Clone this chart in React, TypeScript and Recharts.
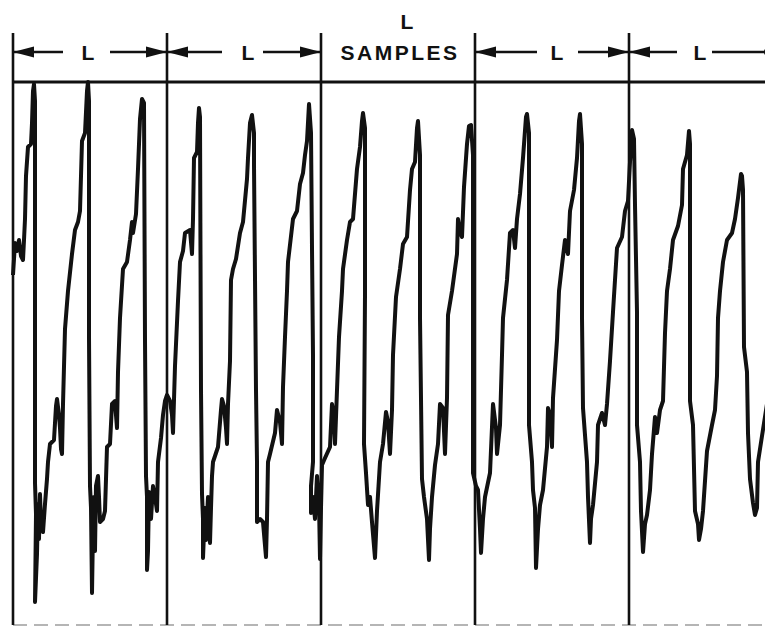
import React from "react";
import { LineChart, Line, XAxis, YAxis, ReferenceLine, ReferenceDot } from "recharts";

// frame length in samples
const L = 154;

// waveform, one array per frame: [sample, amplitude]
const frame1 = [
  [0, 79], [2, 111], [4, 103], [6, 114], [8, 98], [10, 94], [11, 114], [12, 135], [13, 178], [15, 207], [18, 210], [19, 231], [20, 263], [21, 270], [22, 253],
  [22, -1], [22, -129], [23, -160], [22, -248], [24, -200], [25, -150], [26, -185], [27, -140], [28, -170], [30, -178], [32, -150], [34, -125], [35, -108], [37, -90], [41, -86], [43, -52], [44, -45], [46, -61], [47, -74], [48, -95], [49, -100], [50, -50], [52, 25], [55, 63], [59, 100], [62, 124], [65, 132], [67, 143], [68, 178], [69, 213], [72, 221], [74, 263], [75, 272], [76, 253],
  [76, 17], [77, -132], [78, -154], [79, -239], [80, -175], [81, -143], [82, -197], [83, -132], [85, -122], [86, -143], [87, -168], [90, -165], [92, -157], [94, -93], [97, -90], [99, -50], [102, -47], [103, -61], [104, -74], [105, -18], [107, 36], [110, 85], [114, 92], [117, 114], [119, 132], [120, 121], [123, 140], [125, 185], [127, 235], [129, 255], [131, 251],
  [132, 14], [133, -122], [134, -143], [134, -216], [135, -197], [136, -138], [138, -165], [140, -132], [142, -143], [144, -157], [145, -108], [148, -84], [150, -61], [152, -47],
];

const frame2 = [
  [154, -41], [157, -47], [159, -61], [160, -79], [162, -12], [165, 53], [167, 92], [170, 103], [172, 121], [177, 124], [179, 100], [180, 135], [181, 196], [184, 202], [185, 231], [186, 246], [187, 237],
  [188, -36], [189, -140], [190, -165], [190, -204], [192, -154], [193, -186], [195, -143], [197, -189], [198, -154], [199, -122], [200, -108], [205, -93], [208, -56], [209, -45], [211, -52], [213, -74], [214, -90], [215, -50], [217, -7], [218, 74], [220, 85], [223, 95], [227, 121], [230, 132], [234, 175], [235, 196], [237, 231], [239, 239], [241, 221],
  [241, 189], [243, -36], [244, -108], [244, -168], [247, -165], [250, -168], [253, -203], [254, -165], [255, -108], [257, -100], [262, -79], [264, -56], [267, -68], [269, -90], [270, -33], [272, 17], [274, 63], [275, 92], [280, 135], [284, 143], [287, 170], [290, 181], [292, 199], [294, 213], [296, 250], [298, 221],
  [299, 106], [300, -1], [300, -108], [298, -132], [298, -159], [300, -143], [302, -165], [304, -122], [306, -149], [307, -205],
];

const frame3 = [
  [308, -154], [309, -111], [312, -104], [317, -93], [319, -50], [321, -61], [322, -90], [324, -36], [326, 17], [329, 63], [330, 85], [334, 114], [337, 132], [340, 135], [344, 185], [347, 207], [349, 233], [350, 241], [352, 226],
  [352, 60], [351, -90], [353, -119], [355, -151], [357, -143], [359, -168], [362, -204], [364, -157], [367, -108], [370, -90], [373, -58], [375, -68], [377, -100], [379, -56], [380, -1], [383, 57], [387, 85], [390, 110], [394, 117], [397, 164], [399, 185], [402, 192], [404, 226], [405, 233], [407, 199],
  [407, 36], [409, -125], [411, -143], [414, -165], [416, -206], [417, -175], [419, -143], [422, -111], [425, -90], [427, -50], [430, -54], [432, -100], [434, -44], [435, 39], [439, 63], [444, 100], [445, 135], [447, 122], [449, 117], [451, 167], [454, 210], [456, 228], [458, 229], [460, 199],
  [460, 36], [460, -119],
];

const frame4 = [
  [463, -132], [465, -136], [467, -175], [468, -199], [470, -165], [472, -143], [477, -119], [480, -50], [483, -74], [484, -100], [487, -71], [489, -1], [490, 36], [494, 74], [497, 121], [500, 124], [502, 106], [504, 135], [507, 160], [510, 196], [513, 237], [514, 240], [516, 221],
  [516, -71], [519, -108], [520, -136], [522, -154], [523, -214], [525, -175], [527, -151], [530, -136], [534, -93], [535, -54], [537, -61], [539, -93], [540, -44], [544, 14], [546, 63], [549, 89], [552, 114], [555, 100], [557, 143], [561, 164], [564, 196], [566, 233], [567, 240], [569, 210],
  [569, 36], [570, -54], [574, -108], [575, -143], [577, -189], [578, -165], [580, -151], [584, -108], [585, -71], [589, -59], [592, -71], [594, -50], [597, -7], [600, 42], [604, 106], [609, 117], [612, 143], [615, 153],
];

const frame5 = [
  [617, 192], [619, 224], [621, 215],
  [622, 149], [624, 42], [624, -71], [627, -108], [628, -157], [630, -198], [632, -170], [634, -161], [637, -136], [639, -100], [642, -63], [644, -79], [647, -56], [650, -47], [652, 21], [654, 63], [657, 85], [660, 114], [665, 128], [669, 149], [670, 185], [674, 199], [676, 223], [677, 210],
  [677, 149], [677, -47], [680, -71], [682, -157], [685, -170], [686, -186], [688, -175], [690, -157], [694, -97], [699, -71], [702, -56], [704, -22], [705, 36], [707, 63], [710, 92], [714, 114], [719, 121], [722, 135], [725, 156], [728, 180], [729, 178], [730, 164],
  [731, 7], [734, -18], [735, -79], [737, -125], [740, -149], [742, -161], [744, -154], [745, -108], [749, -82], [754, -50], [757, -22], [759, 21], [762, 50],
];

const trace = [frame1, frame2, frame3, frame4, frame5].flat().map(([n, v]) => ({ n, v }));

// frame boundaries and the bracket row above the plot
const dividers = [0, L, 2 * L, 3 * L, 4 * L];
const boxTop = 272;
const boxBottom = -271;
const tickTop = 321;
const arrowY = 302;
const shafts = [[0, 50], [97, L], [L, 209], [250, 2 * L], [3 * L, 524], [565, 4 * L], [4 * L, 664], [699, 755]];
const leftHeads = [0, L, 3 * L, 4 * L];
const rightHeads = [L, 2 * L, 4 * L];
const frameLabels = [75, 235, 544, 687];

const INK = "#111";
const font = { fontFamily: "'Liberation Sans', Arial, sans-serif", fontWeight: 700, fontSize: 21 };

const head = (dir: number) => (p: any) => (
  <polygon
    points={`${p.cx},${p.cy} ${p.cx - dir * 21},${p.cy - 5.5} ${p.cx - dir * 21},${p.cy + 5.5}`}
    fill={INK}
  />
);

const word = (text: string, spacing = 0) => (p: any) => (
  <text
    x={p.cx}
    y={p.cy}
    textAnchor="middle"
    dominantBaseline="central"
    fill={INK}
    letterSpacing={spacing}
    style={font}
  >
    {text}
  </text>
);

export default function App() {
  return (
    <div style={{ width: 757, height: 620, overflow: "hidden", background: "#fff" }}>
      <LineChart width={790} height={620} data={trace} margin={{ top: 2, right: 5, bottom: 3, left: 5 }}>
        <XAxis type="number" dataKey="n" domain={[0, 780]} hide />
        <YAxis type="number" domain={[-271, 344]} hide />

        <ReferenceLine y={boxTop} stroke={INK} strokeWidth={3} />
        <ReferenceLine y={boxBottom} stroke="#b5b5b5" strokeWidth={2} strokeDasharray="14 7" />
        {dividers.map((d) => (
          <ReferenceLine
            key={`d${d}`}
            segment={[{ x: d, y: boxBottom }, { x: d, y: tickTop }]}
            stroke={INK}
            strokeWidth={2.6}
          />
        ))}
        {shafts.map(([a, b]) => (
          <ReferenceLine
            key={`s${a}`}
            segment={[{ x: a, y: arrowY }, { x: b, y: arrowY }]}
            stroke={INK}
            strokeWidth={2.4}
          />
        ))}
        {leftHeads.map((x) => (
          <ReferenceDot key={`lh${x}`} x={x} y={arrowY} r={0} shape={head(-1)} />
        ))}
        {rightHeads.map((x) => (
          <ReferenceDot key={`rh${x}`} x={x} y={arrowY} r={0} shape={head(1)} />
        ))}
        <ReferenceDot x={755} y={arrowY} r={4} fill={INK} stroke="none" />
        {frameLabels.map((x) => (
          <ReferenceDot key={`t${x}`} x={x} y={arrowY} r={0} shape={word("L")} />
        ))}
        <ReferenceDot x={394} y={333} r={0} shape={word("L")} />
        <ReferenceDot x={387} y={arrowY} r={0} shape={word("SAMPLES", 2.5)} />

        <Line
          type="linear"
          dataKey="v"
          stroke={INK}
          strokeWidth={4}
          strokeLinejoin="round"
          dot={false}
          isAnimationActive={false}
        />
      </LineChart>
    </div>
  );
}
